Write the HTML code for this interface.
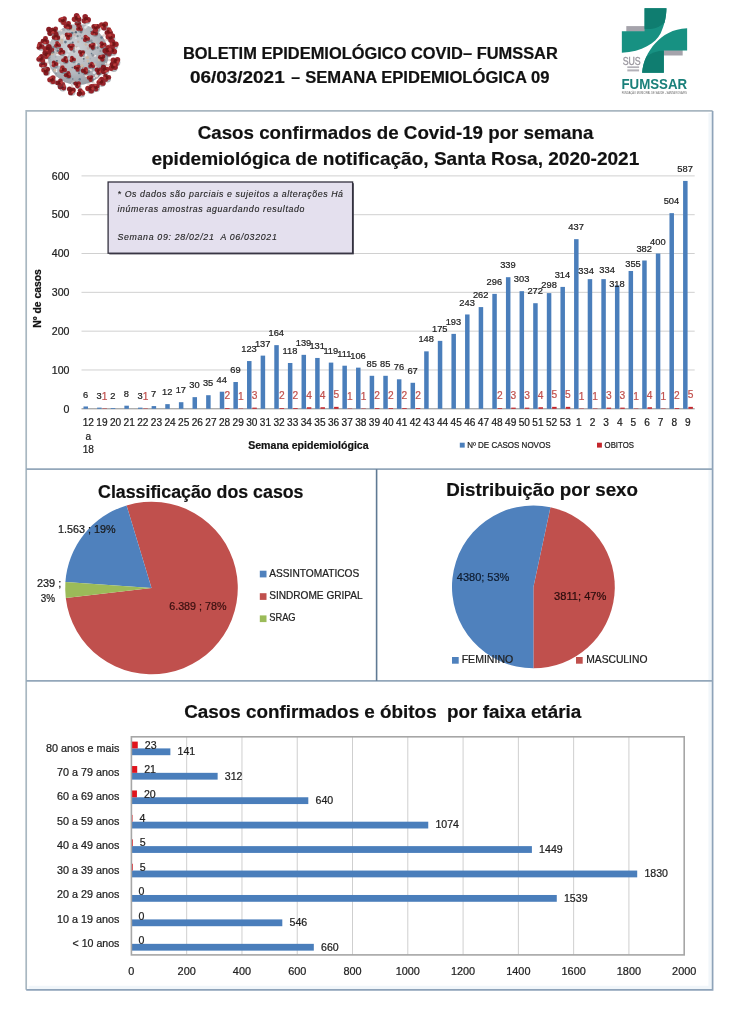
<!DOCTYPE html>
<html lang="pt-BR"><head><meta charset="utf-8"><title>Boletim Epidemiológico COVID – FUMSSAR</title>
<style>
html,body{margin:0;padding:0;background:#fff;}
body{width:730px;height:1024px;overflow:hidden;font-family:"Liberation Sans",sans-serif;}
svg{display:block;font-family:"Liberation Sans",sans-serif;filter:blur(0.45px);}
</style></head>
<body>
<svg width="730" height="1024" viewBox="0 0 730 1024" font-family="Liberation Sans, sans-serif">
<rect width="730" height="1024" fill="#ffffff"/>
<defs><radialGradient id="vg" cx="42%" cy="40%" r="62%"><stop offset="0" stop-color="#cfd2d6"/><stop offset="0.65" stop-color="#b4b8be"/><stop offset="1" stop-color="#969ba3"/></radialGradient>
<filter id="vb" x="-20%" y="-20%" width="140%" height="140%"><feGaussianBlur stdDeviation="0.6"/></filter></defs>
<g id="virus" filter="url(#vb)">
<line x1="67.07" y1="29.88" x2="62.88" y2="20.34" stroke="#e6d6d2" stroke-width="2.4" stroke-linecap="round"/>
<line x1="69.26" y1="29.02" x2="68.08" y2="25.55" stroke="#e6d6d2" stroke-width="2.4" stroke-linecap="round"/>
<line x1="76.93" y1="27.61" x2="76.58" y2="18.01" stroke="#e6d6d2" stroke-width="2.4" stroke-linecap="round"/>
<line x1="83.85" y1="28.24" x2="85.89" y2="19.11" stroke="#e6d6d2" stroke-width="2.4" stroke-linecap="round"/>
<line x1="92.82" y1="32.05" x2="95.75" y2="27.60" stroke="#e6d6d2" stroke-width="2.4" stroke-linecap="round"/>
<line x1="95.86" y1="34.39" x2="103.70" y2="25.55" stroke="#e6d6d2" stroke-width="2.4" stroke-linecap="round"/>
<line x1="99.63" y1="38.50" x2="108.77" y2="31.71" stroke="#e6d6d2" stroke-width="2.4" stroke-linecap="round"/>
<line x1="101.89" y1="42.11" x2="110.55" y2="37.60" stroke="#e6d6d2" stroke-width="2.4" stroke-linecap="round"/>
<line x1="103.83" y1="46.92" x2="113.56" y2="44.04" stroke="#e6d6d2" stroke-width="2.4" stroke-linecap="round"/>
<line x1="104.75" y1="51.37" x2="112.19" y2="50.48" stroke="#e6d6d2" stroke-width="2.4" stroke-linecap="round"/>
<line x1="104.65" y1="50.63" x2="107.53" y2="50.21" stroke="#e6d6d2" stroke-width="2.4" stroke-linecap="round"/>
<line x1="104.54" y1="59.23" x2="115.62" y2="61.16" stroke="#e6d6d2" stroke-width="2.4" stroke-linecap="round"/>
<line x1="103.47" y1="63.40" x2="112.88" y2="66.64" stroke="#e6d6d2" stroke-width="2.4" stroke-linecap="round"/>
<line x1="99.03" y1="71.46" x2="106.71" y2="77.60" stroke="#e6d6d2" stroke-width="2.4" stroke-linecap="round"/>
<line x1="101.56" y1="67.67" x2="104.66" y2="69.38" stroke="#e6d6d2" stroke-width="2.4" stroke-linecap="round"/>
<line x1="90.89" y1="78.28" x2="95.75" y2="87.19" stroke="#e6d6d2" stroke-width="2.4" stroke-linecap="round"/>
<line x1="87.16" y1="79.97" x2="90.27" y2="88.56" stroke="#e6d6d2" stroke-width="2.4" stroke-linecap="round"/>
<line x1="79.88" y1="81.52" x2="80.68" y2="92.67" stroke="#e6d6d2" stroke-width="2.4" stroke-linecap="round"/>
<line x1="72.90" y1="81.11" x2="71.10" y2="90.62" stroke="#e6d6d2" stroke-width="2.4" stroke-linecap="round"/>
<line x1="66.00" y1="78.80" x2="62.19" y2="86.51" stroke="#e6d6d2" stroke-width="2.4" stroke-linecap="round"/>
<line x1="63.15" y1="77.17" x2="59.45" y2="82.81" stroke="#e6d6d2" stroke-width="2.4" stroke-linecap="round"/>
<line x1="58.50" y1="73.32" x2="51.92" y2="79.66" stroke="#e6d6d2" stroke-width="2.4" stroke-linecap="round"/>
<line x1="53.82" y1="66.70" x2="45.75" y2="70.75" stroke="#e6d6d2" stroke-width="2.4" stroke-linecap="round"/>
<line x1="51.86" y1="61.55" x2="43.01" y2="63.90" stroke="#e6d6d2" stroke-width="2.4" stroke-linecap="round"/>
<line x1="51.11" y1="57.57" x2="40.96" y2="58.70" stroke="#e6d6d2" stroke-width="2.4" stroke-linecap="round"/>
<line x1="51.61" y1="48.65" x2="40.27" y2="46.10" stroke="#e6d6d2" stroke-width="2.4" stroke-linecap="round"/>
<line x1="53.10" y1="44.03" x2="45.07" y2="40.62" stroke="#e6d6d2" stroke-width="2.4" stroke-linecap="round"/>
<line x1="51.42" y1="49.53" x2="47.81" y2="48.84" stroke="#e6d6d2" stroke-width="2.4" stroke-linecap="round"/>
<line x1="57.47" y1="36.98" x2="50.55" y2="31.03" stroke="#e6d6d2" stroke-width="2.4" stroke-linecap="round"/>
<line x1="59.07" y1="35.28" x2="54.38" y2="30.48" stroke="#e6d6d2" stroke-width="2.4" stroke-linecap="round"/>
<line x1="50.95" y1="54.35" x2="46.44" y2="54.32" stroke="#e6d6d2" stroke-width="2.4" stroke-linecap="round"/>
<line x1="95.53" y1="75.07" x2="101.23" y2="81.71" stroke="#e6d6d2" stroke-width="2.4" stroke-linecap="round"/>
<line x1="57.12" y1="37.41" x2="56.03" y2="36.51" stroke="#e6d6d2" stroke-width="2.4" stroke-linecap="round"/>
<circle cx="77.95" cy="54.59" r="30.5" fill="url(#vg)"/>
<circle cx="56.85" cy="61.09" r="1.21" fill="#5d6b78"/>
<circle cx="85.83" cy="44.43" r="1.23" fill="#cdb9a4"/>
<circle cx="68.34" cy="46.23" r="1.07" fill="#5d6b78"/>
<circle cx="100.30" cy="68.91" r="1.34" fill="#8f959e"/>
<circle cx="62.17" cy="66.64" r="1.39" fill="#f1f1f1"/>
<circle cx="58.70" cy="35.79" r="0.85" fill="#dfe1e4"/>
<circle cx="83.27" cy="68.09" r="1.50" fill="#8f959e"/>
<circle cx="67.49" cy="74.71" r="1.27" fill="#c4b3ae"/>
<circle cx="64.68" cy="38.50" r="1.21" fill="#dfe1e4"/>
<circle cx="72.76" cy="83.59" r="1.44" fill="#dfe1e4"/>
<circle cx="72.31" cy="67.55" r="0.83" fill="#66798a"/>
<circle cx="69.01" cy="50.84" r="1.56" fill="#dfe1e4"/>
<circle cx="56.11" cy="73.48" r="0.99" fill="#8f959e"/>
<circle cx="84.00" cy="51.60" r="1.68" fill="#a7adb5"/>
<circle cx="71.57" cy="59.38" r="1.50" fill="#c4b3ae"/>
<circle cx="76.87" cy="63.23" r="0.81" fill="#eadbd5"/>
<circle cx="54.01" cy="69.77" r="1.02" fill="#7e8890"/>
<circle cx="83.76" cy="58.87" r="0.96" fill="#5d6b78"/>
<circle cx="59.57" cy="47.41" r="1.69" fill="#c4b3ae"/>
<circle cx="80.28" cy="35.63" r="0.90" fill="#a7adb5"/>
<circle cx="65.99" cy="61.09" r="1.58" fill="#66798a"/>
<circle cx="100.37" cy="51.02" r="0.99" fill="#8f959e"/>
<circle cx="56.48" cy="71.40" r="0.89" fill="#f1f1f1"/>
<circle cx="91.54" cy="53.67" r="0.81" fill="#66798a"/>
<circle cx="57.27" cy="37.41" r="0.87" fill="#a7adb5"/>
<circle cx="96.95" cy="66.67" r="0.81" fill="#c4b3ae"/>
<circle cx="62.16" cy="71.68" r="1.66" fill="#7e8890"/>
<circle cx="55.70" cy="56.87" r="0.96" fill="#a7adb5"/>
<circle cx="93.88" cy="77.76" r="1.02" fill="#f1f1f1"/>
<circle cx="87.31" cy="78.16" r="0.98" fill="#cdb9a4"/>
<circle cx="104.30" cy="46.05" r="0.87" fill="#f1f1f1"/>
<circle cx="87.26" cy="57.45" r="1.67" fill="#cdb9a4"/>
<circle cx="79.75" cy="79.29" r="1.18" fill="#66798a"/>
<circle cx="95.03" cy="42.95" r="0.96" fill="#cdb9a4"/>
<circle cx="76.51" cy="46.99" r="1.23" fill="#c4b3ae"/>
<circle cx="64.75" cy="35.56" r="1.05" fill="#dfe1e4"/>
<circle cx="89.51" cy="47.98" r="0.86" fill="#8f959e"/>
<circle cx="65.44" cy="62.37" r="0.96" fill="#8f959e"/>
<circle cx="62.79" cy="70.97" r="0.88" fill="#7e8890"/>
<circle cx="90.72" cy="69.72" r="1.39" fill="#eadbd5"/>
<circle cx="69.80" cy="33.56" r="1.33" fill="#7e8890"/>
<circle cx="95.97" cy="45.20" r="1.43" fill="#eadbd5"/>
<circle cx="82.13" cy="53.59" r="1.23" fill="#dfe1e4"/>
<circle cx="75.91" cy="38.05" r="0.87" fill="#dfe1e4"/>
<circle cx="53.67" cy="47.36" r="1.51" fill="#7e8890"/>
<circle cx="93.01" cy="45.68" r="1.61" fill="#5d6b78"/>
<circle cx="91.08" cy="40.79" r="1.58" fill="#8f959e"/>
<circle cx="57.02" cy="44.29" r="1.14" fill="#a7adb5"/>
<circle cx="85.85" cy="55.21" r="1.38" fill="#dfe1e4"/>
<circle cx="105.59" cy="53.43" r="1.15" fill="#eadbd5"/>
<circle cx="75.83" cy="32.20" r="1.22" fill="#5d6b78"/>
<circle cx="57.41" cy="49.14" r="0.83" fill="#cdb9a4"/>
<circle cx="61.49" cy="42.43" r="1.66" fill="#c4b3ae"/>
<circle cx="97.71" cy="71.56" r="1.03" fill="#5d6b78"/>
<circle cx="94.09" cy="55.74" r="0.98" fill="#f1f1f1"/>
<circle cx="91.53" cy="79.16" r="1.25" fill="#5d6b78"/>
<circle cx="78.95" cy="73.33" r="0.98" fill="#66798a"/>
<circle cx="53.92" cy="65.73" r="1.59" fill="#c4b3ae"/>
<circle cx="61.10" cy="69.55" r="0.99" fill="#eadbd5"/>
<circle cx="89.54" cy="67.66" r="1.44" fill="#8f959e"/>
<circle cx="92.71" cy="49.79" r="0.90" fill="#7e8890"/>
<circle cx="50.02" cy="59.67" r="1.14" fill="#a7adb5"/>
<circle cx="53.95" cy="51.56" r="1.21" fill="#f1f1f1"/>
<circle cx="82.61" cy="56.96" r="0.84" fill="#f1f1f1"/>
<circle cx="72.22" cy="33.05" r="1.38" fill="#66798a"/>
<circle cx="56.21" cy="45.34" r="1.21" fill="#a7adb5"/>
<circle cx="104.49" cy="58.75" r="1.50" fill="#c4b3ae"/>
<circle cx="86.44" cy="26.58" r="1.20" fill="#dfe1e4"/>
<circle cx="61.60" cy="37.19" r="1.66" fill="#eadbd5"/>
<circle cx="72.68" cy="42.52" r="1.03" fill="#5d6b78"/>
<circle cx="72.23" cy="29.60" r="1.44" fill="#cdb9a4"/>
<circle cx="84.58" cy="68.48" r="1.29" fill="#eadbd5"/>
<circle cx="97.66" cy="47.74" r="1.15" fill="#7e8890"/>
<circle cx="85.26" cy="27.48" r="1.17" fill="#dfe1e4"/>
<circle cx="92.30" cy="43.11" r="1.21" fill="#5d6b78"/>
<circle cx="58.12" cy="34.62" r="1.30" fill="#a7adb5"/>
<circle cx="65.94" cy="37.46" r="1.22" fill="#eadbd5"/>
<circle cx="70.19" cy="43.72" r="0.99" fill="#dfe1e4"/>
<circle cx="101.58" cy="37.42" r="1.28" fill="#66798a"/>
<circle cx="82.18" cy="38.44" r="1.11" fill="#8f959e"/>
<circle cx="94.94" cy="64.32" r="1.18" fill="#cdb9a4"/>
<circle cx="73.47" cy="82.53" r="1.53" fill="#c4b3ae"/>
<circle cx="102.22" cy="64.92" r="1.28" fill="#7e8890"/>
<circle cx="66.99" cy="28.57" r="0.93" fill="#5d6b78"/>
<circle cx="52.99" cy="51.99" r="1.65" fill="#5d6b78"/>
<circle cx="49.24" cy="55.93" r="1.48" fill="#dfe1e4"/>
<circle cx="57.47" cy="62.78" r="1.37" fill="#cdb9a4"/>
<circle cx="51.13" cy="50.72" r="1.03" fill="#cdb9a4"/>
<circle cx="64.27" cy="29.22" r="0.99" fill="#f1f1f1"/>
<circle cx="95.12" cy="31.19" r="1.05" fill="#cdb9a4"/>
<circle cx="59.03" cy="54.87" r="1.25" fill="#dfe1e4"/>
<circle cx="74.07" cy="51.57" r="1.26" fill="#8f959e"/>
<circle cx="56.53" cy="70.03" r="0.91" fill="#f1f1f1"/>
<circle cx="87.98" cy="61.25" r="1.21" fill="#cdb9a4"/>
<circle cx="101.14" cy="41.99" r="1.04" fill="#a7adb5"/>
<circle cx="67.58" cy="56.35" r="1.61" fill="#a7adb5"/>
<circle cx="103.96" cy="43.46" r="1.09" fill="#cdb9a4"/>
<circle cx="86.28" cy="76.23" r="0.92" fill="#66798a"/>
<circle cx="78.76" cy="50.21" r="0.94" fill="#c4b3ae"/>
<circle cx="93.63" cy="55.76" r="1.02" fill="#eadbd5"/>
<circle cx="57.09" cy="54.74" r="0.91" fill="#f1f1f1"/>
<circle cx="63.21" cy="53.62" r="1.43" fill="#c4b3ae"/>
<circle cx="81.20" cy="51.48" r="1.54" fill="#a7adb5"/>
<circle cx="61.78" cy="40.20" r="1.37" fill="#cdb9a4"/>
<circle cx="51.20" cy="49.55" r="1.33" fill="#f1f1f1"/>
<circle cx="96.41" cy="75.92" r="1.61" fill="#eadbd5"/>
<circle cx="71.29" cy="69.75" r="1.00" fill="#c4b3ae"/>
<circle cx="105.74" cy="54.30" r="1.60" fill="#7e8890"/>
<circle cx="83.84" cy="61.07" r="0.89" fill="#a7adb5"/>
<circle cx="87.40" cy="37.93" r="0.98" fill="#7e8890"/>
<circle cx="59.65" cy="35.60" r="0.98" fill="#dfe1e4"/>
<circle cx="66.34" cy="28.93" r="0.90" fill="#eadbd5"/>
<circle cx="52.28" cy="53.67" r="1.70" fill="#cdb9a4"/>
<circle cx="91.11" cy="31.67" r="0.90" fill="#5d6b78"/>
<circle cx="99.25" cy="59.70" r="1.61" fill="#cdb9a4"/>
<circle cx="65.19" cy="56.10" r="0.98" fill="#dfe1e4"/>
<circle cx="93.71" cy="29.82" r="1.32" fill="#dfe1e4"/>
<circle cx="94.11" cy="72.79" r="1.49" fill="#dfe1e4"/>
<circle cx="68.59" cy="72.44" r="1.12" fill="#cdb9a4"/>
<circle cx="82.42" cy="72.05" r="1.56" fill="#8f959e"/>
<circle cx="86.26" cy="72.64" r="1.16" fill="#eadbd5"/>
<circle cx="82.00" cy="65.87" r="1.51" fill="#cdb9a4"/>
<circle cx="74.11" cy="62.28" r="1.31" fill="#a7adb5"/>
<circle cx="86.12" cy="75.61" r="1.52" fill="#eadbd5"/>
<circle cx="76.48" cy="82.71" r="1.53" fill="#7e8890"/>
<circle cx="54.78" cy="70.20" r="1.43" fill="#cdb9a4"/>
<circle cx="80.74" cy="28.93" r="0.99" fill="#a7adb5"/>
<circle cx="88.43" cy="78.75" r="1.22" fill="#66798a"/>
<circle cx="95.50" cy="55.76" r="0.84" fill="#f1f1f1"/>
<circle cx="73.78" cy="83.21" r="1.10" fill="#66798a"/>
<circle cx="65.99" cy="35.81" r="0.87" fill="#cdb9a4"/>
<circle cx="57.22" cy="52.67" r="1.43" fill="#c4b3ae"/>
<circle cx="80.10" cy="25.46" r="0.90" fill="#8f959e"/>
<circle cx="89.12" cy="63.61" r="1.16" fill="#5d6b78"/>
<circle cx="90.34" cy="58.65" r="0.81" fill="#a7adb5"/>
<circle cx="77.11" cy="70.06" r="1.30" fill="#eadbd5"/>
<circle cx="48.97" cy="53.16" r="1.56" fill="#f1f1f1"/>
<circle cx="93.88" cy="66.11" r="1.29" fill="#dfe1e4"/>
<circle cx="63.81" cy="29.46" r="1.64" fill="#a7adb5"/>
<circle cx="88.81" cy="71.69" r="1.57" fill="#7e8890"/>
<circle cx="55.95" cy="48.65" r="1.65" fill="#a7adb5"/>
<circle cx="59.14" cy="64.82" r="1.08" fill="#f1f1f1"/>
<circle cx="57.81" cy="50.69" r="1.30" fill="#66798a"/>
<circle cx="72.72" cy="79.01" r="0.82" fill="#66798a"/>
<circle cx="81.12" cy="32.24" r="1.17" fill="#7e8890"/>
<circle cx="75.23" cy="48.38" r="1.47" fill="#eadbd5"/>
<circle cx="105.83" cy="63.68" r="0.87" fill="#eadbd5"/>
<circle cx="93.97" cy="43.78" r="1.03" fill="#5d6b78"/>
<circle cx="78.16" cy="48.30" r="1.64" fill="#dfe1e4"/>
<circle cx="74.50" cy="34.70" r="1.34" fill="#c4b3ae"/>
<circle cx="95.42" cy="70.01" r="0.91" fill="#5d6b78"/>
<circle cx="89.27" cy="41.09" r="0.91" fill="#7e8890"/>
<circle cx="55.37" cy="63.06" r="1.34" fill="#5d6b78"/>
<circle cx="62.37" cy="35.86" r="1.50" fill="#eadbd5"/>
<circle cx="49.03" cy="48.93" r="1.46" fill="#66798a"/>
<circle cx="78.67" cy="64.52" r="1.51" fill="#66798a"/>
<circle cx="65.44" cy="42.09" r="1.35" fill="#66798a"/>
<circle cx="74.10" cy="30.23" r="1.37" fill="#c4b3ae"/>
<circle cx="78.22" cy="41.74" r="1.25" fill="#c4b3ae"/>
<circle cx="70.47" cy="43.88" r="1.37" fill="#8f959e"/>
<circle cx="92.95" cy="55.48" r="1.36" fill="#8f959e"/>
<circle cx="95.31" cy="67.62" r="1.48" fill="#dfe1e4"/>
<circle cx="88.05" cy="48.43" r="1.37" fill="#c4b3ae"/>
<circle cx="63.68" cy="69.18" r="1.10" fill="#c4b3ae"/>
<circle cx="67.18" cy="54.97" r="1.52" fill="#dfe1e4"/>
<circle cx="52.65" cy="63.28" r="1.20" fill="#c4b3ae"/>
<circle cx="77.64" cy="36.17" r="1.13" fill="#7e8890"/>
<circle cx="61.25" cy="30.46" r="1.06" fill="#eadbd5"/>
<circle cx="79.46" cy="27.82" r="1.18" fill="#7e8890"/>
<circle cx="71.69" cy="61.32" r="0.87" fill="#eadbd5"/>
<circle cx="78.75" cy="25.58" r="2.69" fill="#4f5a66" opacity="0.45"/>
<circle cx="76.46" cy="23.55" r="1.88" fill="#9c282c"/>
<circle cx="79.23" cy="23.21" r="1.88" fill="#861d22"/>
<circle cx="78.14" cy="25.78" r="1.88" fill="#9c282c"/>
<circle cx="77.95" cy="24.18" r="1.41" fill="#6f1418"/>
<circle cx="77.67" cy="22.52" r="1.01" fill="#b83a3a"/>
<circle cx="80.39" cy="29.69" r="2.81" fill="#4f5a66" opacity="0.45"/>
<circle cx="79.86" cy="26.62" r="1.97" fill="#94232a"/>
<circle cx="80.90" cy="29.35" r="1.97" fill="#9c282c"/>
<circle cx="78.02" cy="28.89" r="1.97" fill="#94232a"/>
<circle cx="79.59" cy="28.29" r="1.47" fill="#6f1418"/>
<circle cx="81.20" cy="27.59" r="1.05" fill="#b83a3a"/>
<circle cx="69.16" cy="37.22" r="3.15" fill="#4f5a66" opacity="0.45"/>
<circle cx="66.85" cy="34.68" r="2.20" fill="#861d22"/>
<circle cx="70.10" cy="35.09" r="2.20" fill="#9c282c"/>
<circle cx="68.12" cy="37.70" r="2.20" fill="#9c282c"/>
<circle cx="68.36" cy="35.82" r="1.65" fill="#6f1418"/>
<circle cx="68.52" cy="33.86" r="1.18" fill="#b83a3a"/>
<circle cx="86.96" cy="39.96" r="3.05" fill="#4f5a66" opacity="0.45"/>
<circle cx="85.53" cy="36.85" r="2.13" fill="#9c282c"/>
<circle cx="87.97" cy="38.87" r="2.13" fill="#94232a"/>
<circle cx="84.99" cy="39.97" r="2.13" fill="#94232a"/>
<circle cx="86.16" cy="38.56" r="1.60" fill="#6f1418"/>
<circle cx="87.31" cy="37.04" r="1.14" fill="#b83a3a"/>
<circle cx="58.20" cy="46.13" r="2.84" fill="#4f5a66" opacity="0.45"/>
<circle cx="57.14" cy="43.04" r="1.99" fill="#9c282c"/>
<circle cx="58.98" cy="45.35" r="1.99" fill="#94232a"/>
<circle cx="56.07" cy="45.79" r="1.99" fill="#9c282c"/>
<circle cx="57.40" cy="44.73" r="1.49" fill="#6f1418"/>
<circle cx="58.73" cy="43.55" r="1.07" fill="#b83a3a"/>
<circle cx="71.90" cy="48.18" r="3.04" fill="#4f5a66" opacity="0.45"/>
<circle cx="69.44" cy="46.01" r="2.13" fill="#861d22"/>
<circle cx="72.59" cy="45.73" r="2.13" fill="#9c282c"/>
<circle cx="71.26" cy="48.60" r="2.13" fill="#9c282c"/>
<circle cx="71.10" cy="46.78" r="1.59" fill="#6f1418"/>
<circle cx="70.84" cy="44.90" r="1.14" fill="#b83a3a"/>
<circle cx="103.40" cy="46.13" r="2.94" fill="#4f5a66" opacity="0.45"/>
<circle cx="104.36" cy="44.64" r="2.06" fill="#9c282c"/>
<circle cx="101.80" cy="46.29" r="2.06" fill="#9c282c"/>
<circle cx="101.65" cy="43.24" r="2.06" fill="#94232a"/>
<circle cx="102.60" cy="44.73" r="1.54" fill="#6f1418"/>
<circle cx="103.67" cy="46.22" r="1.10" fill="#b83a3a"/>
<circle cx="82.17" cy="54.35" r="2.86" fill="#4f5a66" opacity="0.45"/>
<circle cx="82.95" cy="52.26" r="2.00" fill="#861d22"/>
<circle cx="81.18" cy="54.65" r="2.00" fill="#94232a"/>
<circle cx="79.99" cy="51.92" r="2.00" fill="#94232a"/>
<circle cx="81.37" cy="52.95" r="1.50" fill="#6f1418"/>
<circle cx="82.86" cy="53.94" r="1.07" fill="#b83a3a"/>
<circle cx="51.35" cy="50.92" r="2.84" fill="#4f5a66" opacity="0.45"/>
<circle cx="49.42" cy="50.80" r="1.99" fill="#9c282c"/>
<circle cx="50.01" cy="47.90" r="1.99" fill="#861d22"/>
<circle cx="52.22" cy="49.86" r="1.99" fill="#9c282c"/>
<circle cx="50.55" cy="49.52" r="1.49" fill="#6f1418"/>
<circle cx="48.79" cy="49.25" r="1.07" fill="#b83a3a"/>
<circle cx="65.73" cy="61.19" r="2.97" fill="#4f5a66" opacity="0.45"/>
<circle cx="65.44" cy="58.09" r="2.08" fill="#861d22"/>
<circle cx="66.16" cy="61.09" r="2.08" fill="#861d22"/>
<circle cx="63.20" cy="60.21" r="2.08" fill="#9c282c"/>
<circle cx="64.93" cy="59.79" r="1.56" fill="#6f1418"/>
<circle cx="66.71" cy="59.28" r="1.11" fill="#b83a3a"/>
<circle cx="102.72" cy="59.14" r="3.09" fill="#4f5a66" opacity="0.45"/>
<circle cx="100.13" cy="57.27" r="2.16" fill="#861d22"/>
<circle cx="103.22" cy="56.42" r="2.16" fill="#861d22"/>
<circle cx="102.41" cy="59.52" r="2.16" fill="#94232a"/>
<circle cx="101.92" cy="57.74" r="1.62" fill="#6f1418"/>
<circle cx="101.32" cy="55.91" r="1.16" fill="#b83a3a"/>
<circle cx="92.44" cy="66.67" r="2.74" fill="#4f5a66" opacity="0.45"/>
<circle cx="91.74" cy="63.63" r="1.92" fill="#9c282c"/>
<circle cx="93.02" cy="66.17" r="1.92" fill="#94232a"/>
<circle cx="90.18" cy="66.02" r="1.92" fill="#94232a"/>
<circle cx="91.64" cy="65.27" r="1.44" fill="#6f1418"/>
<circle cx="93.13" cy="64.43" r="1.03" fill="#b83a3a"/>
<circle cx="78.06" cy="69.41" r="2.93" fill="#4f5a66" opacity="0.45"/>
<circle cx="75.57" cy="67.53" r="2.05" fill="#861d22"/>
<circle cx="78.52" cy="66.79" r="2.05" fill="#9c282c"/>
<circle cx="77.69" cy="69.72" r="2.05" fill="#94232a"/>
<circle cx="77.26" cy="68.01" r="1.54" fill="#6f1418"/>
<circle cx="76.73" cy="66.26" r="1.10" fill="#b83a3a"/>
<circle cx="68.47" cy="76.26" r="3.00" fill="#4f5a66" opacity="0.45"/>
<circle cx="68.27" cy="73.16" r="2.10" fill="#94232a"/>
<circle cx="68.84" cy="76.23" r="2.10" fill="#861d22"/>
<circle cx="65.90" cy="75.19" r="2.10" fill="#861d22"/>
<circle cx="67.67" cy="74.86" r="1.58" fill="#6f1418"/>
<circle cx="69.50" cy="74.44" r="1.13" fill="#b83a3a"/>
<circle cx="91.07" cy="79.69" r="2.81" fill="#4f5a66" opacity="0.45"/>
<circle cx="88.66" cy="77.81" r="1.97" fill="#9c282c"/>
<circle cx="91.49" cy="77.12" r="1.97" fill="#94232a"/>
<circle cx="90.67" cy="79.93" r="1.97" fill="#9c282c"/>
<circle cx="90.27" cy="78.29" r="1.48" fill="#6f1418"/>
<circle cx="89.78" cy="76.60" r="1.05" fill="#b83a3a"/>
<circle cx="78.06" cy="85.85" r="3.05" fill="#4f5a66" opacity="0.45"/>
<circle cx="78.74" cy="83.37" r="2.14" fill="#94232a"/>
<circle cx="77.46" cy="86.27" r="2.14" fill="#94232a"/>
<circle cx="75.58" cy="83.72" r="2.14" fill="#861d22"/>
<circle cx="77.26" cy="84.45" r="1.60" fill="#6f1418"/>
<circle cx="79.04" cy="85.13" r="1.14" fill="#b83a3a"/>
<circle cx="95.18" cy="33.80" r="3.01" fill="#4f5a66" opacity="0.45"/>
<circle cx="95.86" cy="33.43" r="2.10" fill="#861d22"/>
<circle cx="92.75" cy="33.16" r="2.10" fill="#9c282c"/>
<circle cx="94.54" cy="30.60" r="2.10" fill="#94232a"/>
<circle cx="94.38" cy="32.40" r="1.58" fill="#6f1418"/>
<circle cx="94.31" cy="34.27" r="1.13" fill="#b83a3a"/>
<circle cx="108.88" cy="54.35" r="3.04" fill="#4f5a66" opacity="0.45"/>
<circle cx="106.26" cy="53.07" r="2.13" fill="#861d22"/>
<circle cx="108.88" cy="51.31" r="2.13" fill="#9c282c"/>
<circle cx="109.10" cy="54.46" r="2.13" fill="#9c282c"/>
<circle cx="108.08" cy="52.95" r="1.60" fill="#6f1418"/>
<circle cx="106.95" cy="51.42" r="1.14" fill="#b83a3a"/>
<circle cx="55.46" cy="65.30" r="2.86" fill="#4f5a66" opacity="0.45"/>
<circle cx="53.76" cy="65.37" r="2.00" fill="#9c282c"/>
<circle cx="53.84" cy="62.39" r="2.00" fill="#861d22"/>
<circle cx="56.37" cy="63.95" r="2.00" fill="#94232a"/>
<circle cx="54.66" cy="63.90" r="1.50" fill="#6f1418"/>
<circle cx="52.87" cy="63.94" r="1.07" fill="#b83a3a"/>
<circle cx="93.13" cy="47.50" r="2.92" fill="#4f5a66" opacity="0.45"/>
<circle cx="90.63" cy="45.69" r="2.04" fill="#861d22"/>
<circle cx="93.53" cy="44.82" r="2.04" fill="#94232a"/>
<circle cx="92.83" cy="47.77" r="2.04" fill="#861d22"/>
<circle cx="92.33" cy="46.10" r="1.53" fill="#6f1418"/>
<circle cx="91.73" cy="44.38" r="1.09" fill="#b83a3a"/>
<circle cx="62.31" cy="52.98" r="2.99" fill="#4f5a66" opacity="0.45"/>
<circle cx="63.22" cy="52.09" r="2.09" fill="#861d22"/>
<circle cx="60.20" cy="52.81" r="2.09" fill="#9c282c"/>
<circle cx="61.09" cy="49.83" r="2.09" fill="#94232a"/>
<circle cx="61.51" cy="51.58" r="1.57" fill="#6f1418"/>
<circle cx="62.02" cy="53.37" r="1.12" fill="#b83a3a"/>
<circle cx="85.59" cy="72.15" r="3.09" fill="#4f5a66" opacity="0.45"/>
<circle cx="85.73" cy="69.15" r="2.16" fill="#9c282c"/>
<circle cx="85.72" cy="72.36" r="2.16" fill="#861d22"/>
<circle cx="82.94" cy="70.75" r="2.16" fill="#861d22"/>
<circle cx="84.79" cy="70.75" r="1.62" fill="#6f1418"/>
<circle cx="86.72" cy="70.67" r="1.16" fill="#b83a3a"/>
<circle cx="73.27" cy="60.51" r="2.65" fill="#4f5a66" opacity="0.45"/>
<circle cx="71.44" cy="60.32" r="1.86" fill="#94232a"/>
<circle cx="71.93" cy="57.61" r="1.86" fill="#94232a"/>
<circle cx="74.03" cy="59.39" r="1.86" fill="#9c282c"/>
<circle cx="72.47" cy="59.11" r="1.39" fill="#6f1418"/>
<circle cx="70.82" cy="58.89" r="1.00" fill="#b83a3a"/>
<circle cx="99.29" cy="72.15" r="3.16" fill="#4f5a66" opacity="0.45"/>
<circle cx="100.13" cy="69.79" r="2.21" fill="#94232a"/>
<circle cx="98.51" cy="72.65" r="2.21" fill="#861d22"/>
<circle cx="96.85" cy="69.82" r="2.21" fill="#94232a"/>
<circle cx="98.49" cy="70.75" r="1.66" fill="#6f1418"/>
<circle cx="100.25" cy="71.65" r="1.18" fill="#b83a3a"/>
<circle cx="63.68" cy="70.78" r="3.19" fill="#4f5a66" opacity="0.45"/>
<circle cx="61.52" cy="70.73" r="2.24" fill="#94232a"/>
<circle cx="62.39" cy="67.53" r="2.24" fill="#9c282c"/>
<circle cx="64.73" cy="69.88" r="2.24" fill="#94232a"/>
<circle cx="62.88" cy="69.38" r="1.68" fill="#6f1418"/>
<circle cx="60.93" cy="68.95" r="1.20" fill="#b83a3a"/>
<circle cx="63.68" cy="21.74" r="3.61" fill="#4f5a66" opacity="0.45"/>
<circle cx="60.75" cy="19.95" r="2.53" fill="#9c282c"/>
<circle cx="64.28" cy="18.69" r="2.53" fill="#94232a"/>
<circle cx="63.60" cy="22.38" r="2.53" fill="#9c282c"/>
<circle cx="62.88" cy="20.34" r="1.89" fill="#6f1418"/>
<circle cx="62.02" cy="18.25" r="1.35" fill="#b83a3a"/>
<circle cx="68.88" cy="26.95" r="3.56" fill="#4f5a66" opacity="0.45"/>
<circle cx="69.68" cy="26.96" r="2.49" fill="#861d22"/>
<circle cx="66.06" cy="26.23" r="2.49" fill="#94232a"/>
<circle cx="68.50" cy="23.45" r="2.49" fill="#94232a"/>
<circle cx="68.08" cy="25.55" r="1.87" fill="#6f1418"/>
<circle cx="67.75" cy="27.75" r="1.33" fill="#b83a3a"/>
<circle cx="77.38" cy="19.41" r="3.94" fill="#4f5a66" opacity="0.45"/>
<circle cx="76.62" cy="15.65" r="2.76" fill="#94232a"/>
<circle cx="78.60" cy="19.24" r="2.76" fill="#861d22"/>
<circle cx="74.50" cy="19.16" r="2.76" fill="#9c282c"/>
<circle cx="76.58" cy="18.01" r="2.07" fill="#6f1418"/>
<circle cx="78.68" cy="16.72" r="1.48" fill="#b83a3a"/>
<circle cx="86.69" cy="20.51" r="3.94" fill="#4f5a66" opacity="0.45"/>
<circle cx="88.19" cy="19.65" r="2.76" fill="#94232a"/>
<circle cx="84.28" cy="20.84" r="2.76" fill="#94232a"/>
<circle cx="85.20" cy="16.85" r="2.76" fill="#94232a"/>
<circle cx="85.89" cy="19.11" r="2.07" fill="#6f1418"/>
<circle cx="86.72" cy="21.43" r="1.48" fill="#b83a3a"/>
<circle cx="96.55" cy="29.00" r="3.59" fill="#4f5a66" opacity="0.45"/>
<circle cx="93.92" cy="26.47" r="2.51" fill="#861d22"/>
<circle cx="97.65" cy="26.58" r="2.51" fill="#861d22"/>
<circle cx="95.69" cy="29.76" r="2.51" fill="#9c282c"/>
<circle cx="95.75" cy="27.60" r="1.88" fill="#6f1418"/>
<circle cx="95.72" cy="25.36" r="1.35" fill="#b83a3a"/>
<circle cx="104.50" cy="26.95" r="3.74" fill="#4f5a66" opacity="0.45"/>
<circle cx="104.06" cy="27.76" r="2.62" fill="#94232a"/>
<circle cx="101.60" cy="24.76" r="2.62" fill="#9c282c"/>
<circle cx="105.43" cy="24.12" r="2.62" fill="#9c282c"/>
<circle cx="103.70" cy="25.55" r="1.96" fill="#6f1418"/>
<circle cx="101.96" cy="27.11" r="1.40" fill="#b83a3a"/>
<circle cx="109.57" cy="33.11" r="3.47" fill="#4f5a66" opacity="0.45"/>
<circle cx="108.87" cy="29.63" r="2.43" fill="#9c282c"/>
<circle cx="110.52" cy="32.84" r="2.43" fill="#861d22"/>
<circle cx="106.92" cy="32.67" r="2.43" fill="#861d22"/>
<circle cx="108.77" cy="31.71" r="1.82" fill="#6f1418"/>
<circle cx="110.65" cy="30.63" r="1.30" fill="#b83a3a"/>
<circle cx="111.35" cy="39.00" r="3.96" fill="#4f5a66" opacity="0.45"/>
<circle cx="108.29" cy="36.86" r="2.77" fill="#9c282c"/>
<circle cx="112.32" cy="36.02" r="2.77" fill="#9c282c"/>
<circle cx="111.04" cy="39.93" r="2.77" fill="#9c282c"/>
<circle cx="110.55" cy="37.60" r="2.08" fill="#6f1418"/>
<circle cx="109.93" cy="35.21" r="1.49" fill="#b83a3a"/>
<circle cx="114.36" cy="45.44" r="3.95" fill="#4f5a66" opacity="0.45"/>
<circle cx="112.27" cy="46.02" r="2.76" fill="#861d22"/>
<circle cx="112.49" cy="41.93" r="2.76" fill="#94232a"/>
<circle cx="115.93" cy="44.17" r="2.76" fill="#9c282c"/>
<circle cx="113.56" cy="44.04" r="2.07" fill="#6f1418"/>
<circle cx="111.10" cy="44.02" r="1.48" fill="#b83a3a"/>
<circle cx="112.99" cy="51.88" r="3.91" fill="#4f5a66" opacity="0.45"/>
<circle cx="110.30" cy="51.87" r="2.74" fill="#94232a"/>
<circle cx="111.94" cy="48.15" r="2.74" fill="#94232a"/>
<circle cx="114.34" cy="51.42" r="2.74" fill="#9c282c"/>
<circle cx="112.19" cy="50.48" r="2.05" fill="#6f1418"/>
<circle cx="109.91" cy="49.60" r="1.47" fill="#b83a3a"/>
<circle cx="108.33" cy="51.61" r="3.98" fill="#4f5a66" opacity="0.45"/>
<circle cx="108.20" cy="47.91" r="2.79" fill="#9c282c"/>
<circle cx="109.19" cy="51.93" r="2.79" fill="#94232a"/>
<circle cx="105.21" cy="50.78" r="2.79" fill="#861d22"/>
<circle cx="107.53" cy="50.21" r="2.09" fill="#6f1418"/>
<circle cx="109.92" cy="49.49" r="1.49" fill="#b83a3a"/>
<circle cx="116.42" cy="62.56" r="3.95" fill="#4f5a66" opacity="0.45"/>
<circle cx="117.46" cy="59.68" r="2.77" fill="#9c282c"/>
<circle cx="115.98" cy="63.51" r="2.77" fill="#9c282c"/>
<circle cx="113.41" cy="60.31" r="2.77" fill="#9c282c"/>
<circle cx="115.62" cy="61.16" r="2.07" fill="#6f1418"/>
<circle cx="117.96" cy="61.95" r="1.48" fill="#b83a3a"/>
<circle cx="113.68" cy="68.04" r="3.87" fill="#4f5a66" opacity="0.45"/>
<circle cx="112.35" cy="64.38" r="2.71" fill="#861d22"/>
<circle cx="115.10" cy="67.31" r="2.71" fill="#94232a"/>
<circle cx="111.19" cy="68.24" r="2.71" fill="#9c282c"/>
<circle cx="112.88" cy="66.64" r="2.03" fill="#6f1418"/>
<circle cx="114.56" cy="64.91" r="1.45" fill="#b83a3a"/>
<circle cx="107.51" cy="79.00" r="3.46" fill="#4f5a66" opacity="0.45"/>
<circle cx="105.81" cy="79.47" r="2.42" fill="#9c282c"/>
<circle cx="105.55" cy="75.88" r="2.42" fill="#861d22"/>
<circle cx="108.78" cy="77.45" r="2.42" fill="#94232a"/>
<circle cx="106.71" cy="77.60" r="1.82" fill="#6f1418"/>
<circle cx="104.57" cy="77.86" r="1.30" fill="#b83a3a"/>
<circle cx="105.46" cy="70.78" r="3.77" fill="#4f5a66" opacity="0.45"/>
<circle cx="106.92" cy="69.29" r="2.64" fill="#9c282c"/>
<circle cx="103.61" cy="71.39" r="2.64" fill="#861d22"/>
<circle cx="103.44" cy="67.48" r="2.64" fill="#861d22"/>
<circle cx="104.66" cy="69.38" r="1.98" fill="#6f1418"/>
<circle cx="106.01" cy="71.31" r="1.41" fill="#b83a3a"/>
<circle cx="96.55" cy="88.59" r="3.39" fill="#4f5a66" opacity="0.45"/>
<circle cx="93.92" cy="86.30" r="2.38" fill="#94232a"/>
<circle cx="97.44" cy="86.05" r="2.38" fill="#94232a"/>
<circle cx="95.90" cy="89.22" r="2.38" fill="#94232a"/>
<circle cx="95.75" cy="87.19" r="1.78" fill="#6f1418"/>
<circle cx="95.50" cy="85.09" r="1.27" fill="#b83a3a"/>
<circle cx="91.07" cy="89.96" r="3.89" fill="#4f5a66" opacity="0.45"/>
<circle cx="91.60" cy="86.64" r="2.72" fill="#94232a"/>
<circle cx="91.27" cy="90.67" r="2.72" fill="#94232a"/>
<circle cx="87.95" cy="88.38" r="2.72" fill="#9c282c"/>
<circle cx="90.27" cy="88.56" r="2.04" fill="#6f1418"/>
<circle cx="92.70" cy="88.64" r="1.46" fill="#b83a3a"/>
<circle cx="81.48" cy="94.07" r="3.53" fill="#4f5a66" opacity="0.45"/>
<circle cx="80.24" cy="90.60" r="2.47" fill="#94232a"/>
<circle cx="82.70" cy="93.32" r="2.47" fill="#9c282c"/>
<circle cx="79.11" cy="94.09" r="2.47" fill="#861d22"/>
<circle cx="80.68" cy="92.67" r="1.85" fill="#6f1418"/>
<circle cx="82.25" cy="91.12" r="1.32" fill="#b83a3a"/>
<circle cx="71.90" cy="92.02" r="3.66" fill="#4f5a66" opacity="0.45"/>
<circle cx="73.21" cy="90.01" r="2.56" fill="#861d22"/>
<circle cx="70.57" cy="92.75" r="2.56" fill="#861d22"/>
<circle cx="69.51" cy="89.09" r="2.56" fill="#861d22"/>
<circle cx="71.10" cy="90.62" r="1.92" fill="#6f1418"/>
<circle cx="72.82" cy="92.13" r="1.37" fill="#b83a3a"/>
<circle cx="62.99" cy="87.91" r="3.55" fill="#4f5a66" opacity="0.45"/>
<circle cx="62.71" cy="84.44" r="2.49" fill="#9c282c"/>
<circle cx="63.72" cy="87.99" r="2.49" fill="#94232a"/>
<circle cx="60.14" cy="87.09" r="2.49" fill="#861d22"/>
<circle cx="62.19" cy="86.51" r="1.87" fill="#6f1418"/>
<circle cx="64.30" cy="85.80" r="1.33" fill="#b83a3a"/>
<circle cx="60.25" cy="84.21" r="3.42" fill="#4f5a66" opacity="0.45"/>
<circle cx="60.40" cy="80.99" r="2.39" fill="#94232a"/>
<circle cx="60.56" cy="84.54" r="2.39" fill="#94232a"/>
<circle cx="57.40" cy="82.90" r="2.39" fill="#861d22"/>
<circle cx="59.45" cy="82.81" r="1.79" fill="#6f1418"/>
<circle cx="61.58" cy="82.61" r="1.28" fill="#b83a3a"/>
<circle cx="52.72" cy="81.06" r="3.62" fill="#4f5a66" opacity="0.45"/>
<circle cx="49.74" cy="79.74" r="2.54" fill="#9c282c"/>
<circle cx="52.93" cy="77.74" r="2.54" fill="#9c282c"/>
<circle cx="53.07" cy="81.50" r="2.54" fill="#9c282c"/>
<circle cx="51.92" cy="79.66" r="1.90" fill="#6f1418"/>
<circle cx="50.63" cy="77.80" r="1.36" fill="#b83a3a"/>
<circle cx="46.55" cy="72.15" r="3.62" fill="#4f5a66" opacity="0.45"/>
<circle cx="43.72" cy="70.00" r="2.53" fill="#9c282c"/>
<circle cx="47.42" cy="69.37" r="2.53" fill="#861d22"/>
<circle cx="46.12" cy="72.89" r="2.53" fill="#861d22"/>
<circle cx="45.75" cy="70.75" r="1.90" fill="#6f1418"/>
<circle cx="45.27" cy="68.54" r="1.36" fill="#b83a3a"/>
<circle cx="43.81" cy="65.30" r="3.40" fill="#4f5a66" opacity="0.45"/>
<circle cx="44.84" cy="64.82" r="2.38" fill="#94232a"/>
<circle cx="41.31" cy="65.02" r="2.38" fill="#94232a"/>
<circle cx="42.90" cy="61.87" r="2.38" fill="#861d22"/>
<circle cx="43.01" cy="63.90" r="1.79" fill="#6f1418"/>
<circle cx="43.23" cy="66.02" r="1.28" fill="#b83a3a"/>
<circle cx="41.76" cy="60.10" r="3.61" fill="#4f5a66" opacity="0.45"/>
<circle cx="38.85" cy="59.21" r="2.53" fill="#94232a"/>
<circle cx="41.56" cy="56.62" r="2.53" fill="#861d22"/>
<circle cx="42.46" cy="60.26" r="2.53" fill="#9c282c"/>
<circle cx="40.96" cy="58.70" r="1.90" fill="#6f1418"/>
<circle cx="39.32" cy="57.14" r="1.35" fill="#b83a3a"/>
<circle cx="41.07" cy="47.50" r="3.37" fill="#4f5a66" opacity="0.45"/>
<circle cx="38.83" cy="47.51" r="2.36" fill="#861d22"/>
<circle cx="39.78" cy="44.14" r="2.36" fill="#9c282c"/>
<circle cx="42.22" cy="46.64" r="2.36" fill="#94232a"/>
<circle cx="40.27" cy="46.10" r="1.77" fill="#6f1418"/>
<circle cx="38.22" cy="45.62" r="1.26" fill="#b83a3a"/>
<circle cx="45.87" cy="42.02" r="3.55" fill="#4f5a66" opacity="0.45"/>
<circle cx="46.68" cy="42.01" r="2.48" fill="#94232a"/>
<circle cx="43.06" cy="41.32" r="2.48" fill="#861d22"/>
<circle cx="45.47" cy="38.53" r="2.48" fill="#94232a"/>
<circle cx="45.07" cy="40.62" r="1.86" fill="#6f1418"/>
<circle cx="44.76" cy="42.81" r="1.33" fill="#b83a3a"/>
<circle cx="48.61" cy="50.24" r="3.94" fill="#4f5a66" opacity="0.45"/>
<circle cx="49.17" cy="50.77" r="2.76" fill="#861d22"/>
<circle cx="45.46" cy="49.05" r="2.76" fill="#9c282c"/>
<circle cx="48.80" cy="46.69" r="2.76" fill="#861d22"/>
<circle cx="47.81" cy="48.84" r="2.07" fill="#6f1418"/>
<circle cx="46.88" cy="51.12" r="1.48" fill="#b83a3a"/>
<circle cx="51.35" cy="32.43" r="3.84" fill="#4f5a66" opacity="0.45"/>
<circle cx="52.76" cy="30.37" r="2.69" fill="#9c282c"/>
<circle cx="50.01" cy="33.27" r="2.69" fill="#861d22"/>
<circle cx="48.87" cy="29.44" r="2.69" fill="#861d22"/>
<circle cx="50.55" cy="31.03" r="2.02" fill="#6f1418"/>
<circle cx="52.37" cy="32.59" r="1.44" fill="#b83a3a"/>
<circle cx="55.18" cy="31.88" r="3.42" fill="#4f5a66" opacity="0.45"/>
<circle cx="55.15" cy="32.38" r="2.39" fill="#9c282c"/>
<circle cx="52.35" cy="30.20" r="2.39" fill="#861d22"/>
<circle cx="55.64" cy="28.86" r="2.39" fill="#94232a"/>
<circle cx="54.38" cy="30.48" r="1.79" fill="#6f1418"/>
<circle cx="53.15" cy="32.22" r="1.28" fill="#b83a3a"/>
<circle cx="47.24" cy="55.72" r="3.57" fill="#4f5a66" opacity="0.45"/>
<circle cx="48.45" cy="53.59" r="2.50" fill="#861d22"/>
<circle cx="46.06" cy="56.42" r="2.50" fill="#9c282c"/>
<circle cx="44.80" cy="52.93" r="2.50" fill="#861d22"/>
<circle cx="46.44" cy="54.32" r="1.87" fill="#6f1418"/>
<circle cx="48.21" cy="55.67" r="1.34" fill="#b83a3a"/>
<circle cx="102.03" cy="83.11" r="3.77" fill="#4f5a66" opacity="0.45"/>
<circle cx="99.10" cy="82.45" r="2.64" fill="#9c282c"/>
<circle cx="101.66" cy="79.49" r="2.64" fill="#94232a"/>
<circle cx="102.94" cy="83.19" r="2.64" fill="#94232a"/>
<circle cx="101.23" cy="81.71" r="1.98" fill="#6f1418"/>
<circle cx="99.38" cy="80.26" r="1.41" fill="#b83a3a"/>
<circle cx="56.83" cy="37.91" r="3.45" fill="#4f5a66" opacity="0.45"/>
<circle cx="57.74" cy="37.66" r="2.42" fill="#861d22"/>
<circle cx="54.17" cy="37.42" r="2.42" fill="#861d22"/>
<circle cx="56.17" cy="34.44" r="2.42" fill="#861d22"/>
<circle cx="56.03" cy="36.51" r="1.81" fill="#6f1418"/>
<circle cx="55.98" cy="38.66" r="1.29" fill="#b83a3a"/>
</g>
<g id="logo">
<rect x="626.31" y="26.10" width="19.56" height="5.78" fill="#a5a3ab"/>
<rect x="662.60" y="49.62" width="20.07" height="5.88" fill="#a5a3ab"/>
<path fill="#179182" d="M644.56,8.26 L666.45,8.26 C666.25,16.16 664.83,24.27 660.57,33.40 C655.51,43.03 642.33,51.64 621.85,52.66 L621.85,31.17 L644.56,31.17 Z"/>
<path fill="#0f7d70" d="M644.56,8.26 L666.45,8.26 C666.35,13.12 665.85,17.68 664.63,22.25 C659.56,27.82 651.45,29.85 644.56,28.84 Z"/>
<path fill="#179182" d="M687.13,28.33 L687.13,50.43 L663.82,50.43 L663.82,72.73 L642.13,72.73 C642.84,62.79 647.40,51.64 655.51,43.03 C662.60,35.42 672.74,28.84 687.13,28.33 Z"/>
<path fill="#0f7d70" d="M663.82,50.83 L663.82,72.73 L642.13,72.73 C642.53,66.85 644.15,61.27 646.38,56.71 C651.45,52.66 657.53,50.83 663.82,50.83 Z"/>
<text x="622.66" y="64.62" font-size="11.2" fill="#9a979f" stroke="#9a979f" stroke-width="0.35" textLength="18.04" lengthAdjust="spacingAndGlyphs">SUS</text>
<rect x="627.33" y="66.34" width="11.76" height="1.72" fill="#b3b1b8"/>
<rect x="627.33" y="69.38" width="11.76" height="2.03" fill="#b3b1b8"/>
<text x="621.4" y="88.6" font-size="14.7" font-weight="bold" fill="#1a807a" textLength="65.8" lengthAdjust="spacingAndGlyphs">FUMSSAR</text>
<text x="621.7" y="94.0" font-size="2.9" fill="#666" textLength="65.3" lengthAdjust="spacingAndGlyphs">FUNDAÇÃO MUNICIPAL DE SAÚDE - SANTA ROSA/RS</text>
</g>
<g id="hdr">
<text x="183.00" y="59.00" font-size="15.8" text-anchor="start" font-weight="bold" fill="#111" stroke="#111" stroke-width="0.2" textLength="374.80" lengthAdjust="spacingAndGlyphs" >BOLETIM EPIDEMIOLÓGICO COVID– FUMSSAR</text>
<text x="189.90" y="82.80" font-size="15.8" text-anchor="start" font-weight="bold" fill="#111" stroke="#111" stroke-width="0.2" textLength="94.80" lengthAdjust="spacingAndGlyphs" >06/03/2021</text>
<text x="291.20" y="82.80" font-size="15.8" text-anchor="start" font-weight="bold" fill="#111" stroke="#111" stroke-width="0.2" textLength="8.80" lengthAdjust="spacingAndGlyphs" >–</text>
<text x="305.20" y="82.80" font-size="15.8" text-anchor="start" font-weight="bold" fill="#111" stroke="#111" stroke-width="0.2" textLength="244.20" lengthAdjust="spacingAndGlyphs" >SEMANA EPIDEMIOLÓGICA 09</text>
</g>
<g fill="none" stroke="#f1f6fa" stroke-width="3.5">
<path d="M710.2,113 V987.6 H28.6"/>
</g>
<g fill="none" stroke-width="1.7">
<path d="M26.2,989.8 V110.9 H712.6" stroke="#a9b7c1"/>
<path d="M712.6,110.9 V989.8 H26.2" stroke="#8ea3b9"/>
<line x1="26.2" y1="469.2" x2="712.6" y2="469.2" stroke="#93a7ba"/>
<line x1="26.2" y1="680.9" x2="712.6" y2="680.9" stroke="#93a7ba"/>
</g>
<line x1="376.6" y1="469.2" x2="376.6" y2="680.9" stroke="#5f7993" stroke-width="1.6"/>
<g id="bar">
<text x="197.70" y="138.50" font-size="19.0" text-anchor="start" font-weight="bold" fill="#111" stroke="#111" stroke-width="0.2" textLength="395.70" lengthAdjust="spacingAndGlyphs" >Casos confirmados de Covid-19 por semana</text>
<text x="151.40" y="165.00" font-size="19.0" text-anchor="start" font-weight="bold" fill="#111" stroke="#111" stroke-width="0.2" textLength="487.90" lengthAdjust="spacingAndGlyphs" >epidemiológica de notificação, Santa Rosa, 2020-2021</text>
<line x1="81.5" y1="408.80" x2="694.7" y2="408.80" stroke="#8c8c8c" stroke-width="1"/>
<text x="69.50" y="412.50" font-size="10.6" text-anchor="end" fill="#222" stroke="#222" stroke-width="0.22" >0</text>
<line x1="81.5" y1="369.98" x2="694.7" y2="369.98" stroke="#d0d0d0" stroke-width="1"/>
<text x="69.50" y="373.68" font-size="10.6" text-anchor="end" fill="#222" stroke="#222" stroke-width="0.22" >100</text>
<line x1="81.5" y1="331.16" x2="694.7" y2="331.16" stroke="#d0d0d0" stroke-width="1"/>
<text x="69.50" y="334.86" font-size="10.6" text-anchor="end" fill="#222" stroke="#222" stroke-width="0.22" >200</text>
<line x1="81.5" y1="292.34" x2="694.7" y2="292.34" stroke="#d0d0d0" stroke-width="1"/>
<text x="69.50" y="296.04" font-size="10.6" text-anchor="end" fill="#222" stroke="#222" stroke-width="0.22" >300</text>
<line x1="81.5" y1="253.52" x2="694.7" y2="253.52" stroke="#d0d0d0" stroke-width="1"/>
<text x="69.50" y="257.22" font-size="10.6" text-anchor="end" fill="#222" stroke="#222" stroke-width="0.22" >400</text>
<line x1="81.5" y1="214.70" x2="694.7" y2="214.70" stroke="#d0d0d0" stroke-width="1"/>
<text x="69.50" y="218.40" font-size="10.6" text-anchor="end" fill="#222" stroke="#222" stroke-width="0.22" >500</text>
<line x1="81.5" y1="175.88" x2="694.7" y2="175.88" stroke="#d0d0d0" stroke-width="1"/>
<text x="69.50" y="179.58" font-size="10.6" text-anchor="end" fill="#222" stroke="#222" stroke-width="0.22" >600</text>
<text transform="translate(41.2,298.4) rotate(-90)" text-anchor="middle" font-size="10.4" font-weight="bold" fill="#111" stroke="#111" stroke-width="0.22" textLength="58.5" lengthAdjust="spacingAndGlyphs">Nº de casos</text>
<text x="88.30" y="426.30" font-size="10.1" text-anchor="middle" fill="#222" stroke="#222" stroke-width="0.22" >12</text>
<text x="101.93" y="426.30" font-size="10.1" text-anchor="middle" fill="#222" stroke="#222" stroke-width="0.22" >19</text>
<text x="115.55" y="426.30" font-size="10.1" text-anchor="middle" fill="#222" stroke="#222" stroke-width="0.22" >20</text>
<text x="129.18" y="426.30" font-size="10.1" text-anchor="middle" fill="#222" stroke="#222" stroke-width="0.22" >21</text>
<text x="142.81" y="426.30" font-size="10.1" text-anchor="middle" fill="#222" stroke="#222" stroke-width="0.22" >22</text>
<text x="156.44" y="426.30" font-size="10.1" text-anchor="middle" fill="#222" stroke="#222" stroke-width="0.22" >23</text>
<text x="170.06" y="426.30" font-size="10.1" text-anchor="middle" fill="#222" stroke="#222" stroke-width="0.22" >24</text>
<text x="183.69" y="426.30" font-size="10.1" text-anchor="middle" fill="#222" stroke="#222" stroke-width="0.22" >25</text>
<text x="197.32" y="426.30" font-size="10.1" text-anchor="middle" fill="#222" stroke="#222" stroke-width="0.22" >26</text>
<text x="210.94" y="426.30" font-size="10.1" text-anchor="middle" fill="#222" stroke="#222" stroke-width="0.22" >27</text>
<text x="224.57" y="426.30" font-size="10.1" text-anchor="middle" fill="#222" stroke="#222" stroke-width="0.22" >28</text>
<text x="238.20" y="426.30" font-size="10.1" text-anchor="middle" fill="#222" stroke="#222" stroke-width="0.22" >29</text>
<text x="251.82" y="426.30" font-size="10.1" text-anchor="middle" fill="#222" stroke="#222" stroke-width="0.22" >30</text>
<text x="265.45" y="426.30" font-size="10.1" text-anchor="middle" fill="#222" stroke="#222" stroke-width="0.22" >31</text>
<text x="279.08" y="426.30" font-size="10.1" text-anchor="middle" fill="#222" stroke="#222" stroke-width="0.22" >32</text>
<text x="292.70" y="426.30" font-size="10.1" text-anchor="middle" fill="#222" stroke="#222" stroke-width="0.22" >33</text>
<text x="306.33" y="426.30" font-size="10.1" text-anchor="middle" fill="#222" stroke="#222" stroke-width="0.22" >34</text>
<text x="319.96" y="426.30" font-size="10.1" text-anchor="middle" fill="#222" stroke="#222" stroke-width="0.22" >35</text>
<text x="333.59" y="426.30" font-size="10.1" text-anchor="middle" fill="#222" stroke="#222" stroke-width="0.22" >36</text>
<text x="347.21" y="426.30" font-size="10.1" text-anchor="middle" fill="#222" stroke="#222" stroke-width="0.22" >37</text>
<text x="360.84" y="426.30" font-size="10.1" text-anchor="middle" fill="#222" stroke="#222" stroke-width="0.22" >38</text>
<text x="374.47" y="426.30" font-size="10.1" text-anchor="middle" fill="#222" stroke="#222" stroke-width="0.22" >39</text>
<text x="388.09" y="426.30" font-size="10.1" text-anchor="middle" fill="#222" stroke="#222" stroke-width="0.22" >40</text>
<text x="401.72" y="426.30" font-size="10.1" text-anchor="middle" fill="#222" stroke="#222" stroke-width="0.22" >41</text>
<text x="415.35" y="426.30" font-size="10.1" text-anchor="middle" fill="#222" stroke="#222" stroke-width="0.22" >42</text>
<text x="428.98" y="426.30" font-size="10.1" text-anchor="middle" fill="#222" stroke="#222" stroke-width="0.22" >43</text>
<text x="442.60" y="426.30" font-size="10.1" text-anchor="middle" fill="#222" stroke="#222" stroke-width="0.22" >44</text>
<text x="456.23" y="426.30" font-size="10.1" text-anchor="middle" fill="#222" stroke="#222" stroke-width="0.22" >45</text>
<text x="469.86" y="426.30" font-size="10.1" text-anchor="middle" fill="#222" stroke="#222" stroke-width="0.22" >46</text>
<text x="483.48" y="426.30" font-size="10.1" text-anchor="middle" fill="#222" stroke="#222" stroke-width="0.22" >47</text>
<text x="497.11" y="426.30" font-size="10.1" text-anchor="middle" fill="#222" stroke="#222" stroke-width="0.22" >48</text>
<text x="510.74" y="426.30" font-size="10.1" text-anchor="middle" fill="#222" stroke="#222" stroke-width="0.22" >49</text>
<text x="524.36" y="426.30" font-size="10.1" text-anchor="middle" fill="#222" stroke="#222" stroke-width="0.22" >50</text>
<text x="537.99" y="426.30" font-size="10.1" text-anchor="middle" fill="#222" stroke="#222" stroke-width="0.22" >51</text>
<text x="551.62" y="426.30" font-size="10.1" text-anchor="middle" fill="#222" stroke="#222" stroke-width="0.22" >52</text>
<text x="565.25" y="426.30" font-size="10.1" text-anchor="middle" fill="#222" stroke="#222" stroke-width="0.22" >53</text>
<text x="578.87" y="426.30" font-size="10.1" text-anchor="middle" fill="#222" stroke="#222" stroke-width="0.22" >1</text>
<text x="592.50" y="426.30" font-size="10.1" text-anchor="middle" fill="#222" stroke="#222" stroke-width="0.22" >2</text>
<text x="606.13" y="426.30" font-size="10.1" text-anchor="middle" fill="#222" stroke="#222" stroke-width="0.22" >3</text>
<text x="619.75" y="426.30" font-size="10.1" text-anchor="middle" fill="#222" stroke="#222" stroke-width="0.22" >4</text>
<text x="633.38" y="426.30" font-size="10.1" text-anchor="middle" fill="#222" stroke="#222" stroke-width="0.22" >5</text>
<text x="647.01" y="426.30" font-size="10.1" text-anchor="middle" fill="#222" stroke="#222" stroke-width="0.22" >6</text>
<text x="660.63" y="426.30" font-size="10.1" text-anchor="middle" fill="#222" stroke="#222" stroke-width="0.22" >7</text>
<text x="674.26" y="426.30" font-size="10.1" text-anchor="middle" fill="#222" stroke="#222" stroke-width="0.22" >8</text>
<text x="687.89" y="426.30" font-size="10.1" text-anchor="middle" fill="#222" stroke="#222" stroke-width="0.22" >9</text>
<text x="88.30" y="439.60" font-size="10.1" text-anchor="middle" fill="#222" stroke="#222" stroke-width="0.22" >a</text>
<text x="88.30" y="453.10" font-size="10.1" text-anchor="middle" fill="#222" stroke="#222" stroke-width="0.22" >18</text>
<g fill="#4a7ebb"><rect x="83.50" y="406.47" width="4.5" height="2.33"/><rect x="97.13" y="407.64" width="4.5" height="1.16"/><rect x="110.75" y="408.02" width="4.5" height="0.78"/><rect x="124.38" y="405.69" width="4.5" height="3.11"/><rect x="138.01" y="407.64" width="4.5" height="1.16"/><rect x="151.63" y="406.08" width="4.5" height="2.72"/><rect x="165.26" y="404.14" width="4.5" height="4.66"/><rect x="178.89" y="402.20" width="4.5" height="6.60"/><rect x="192.52" y="397.15" width="4.5" height="11.65"/><rect x="206.14" y="395.21" width="4.5" height="13.59"/><rect x="219.77" y="391.72" width="4.5" height="17.08"/><rect x="233.40" y="382.01" width="4.5" height="26.79"/><rect x="247.02" y="361.05" width="4.5" height="47.75"/><rect x="260.65" y="355.62" width="4.5" height="53.18"/><rect x="274.28" y="345.14" width="4.5" height="63.66"/><rect x="287.90" y="362.99" width="4.5" height="45.81"/><rect x="301.53" y="354.84" width="4.5" height="53.96"/><rect x="315.16" y="357.95" width="4.5" height="50.85"/><rect x="328.79" y="362.60" width="4.5" height="46.20"/><rect x="342.41" y="365.71" width="4.5" height="43.09"/><rect x="356.04" y="367.65" width="4.5" height="41.15"/><rect x="369.67" y="375.80" width="4.5" height="33.00"/><rect x="383.29" y="375.80" width="4.5" height="33.00"/><rect x="396.92" y="379.30" width="4.5" height="29.50"/><rect x="410.55" y="382.79" width="4.5" height="26.01"/><rect x="424.18" y="351.35" width="4.5" height="57.45"/><rect x="437.80" y="340.87" width="4.5" height="67.94"/><rect x="451.43" y="333.88" width="4.5" height="74.92"/><rect x="465.06" y="314.47" width="4.5" height="94.33"/><rect x="478.68" y="307.09" width="4.5" height="101.71"/><rect x="492.31" y="293.89" width="4.5" height="114.91"/><rect x="505.94" y="277.20" width="4.5" height="131.60"/><rect x="519.56" y="291.18" width="4.5" height="117.62"/><rect x="533.19" y="303.21" width="4.5" height="105.59"/><rect x="546.82" y="293.12" width="4.5" height="115.68"/><rect x="560.45" y="286.91" width="4.5" height="121.89"/><rect x="574.07" y="239.16" width="4.5" height="169.64"/><rect x="587.70" y="279.14" width="4.5" height="129.66"/><rect x="601.33" y="279.14" width="4.5" height="129.66"/><rect x="614.95" y="285.35" width="4.5" height="123.45"/><rect x="628.58" y="270.99" width="4.5" height="137.81"/><rect x="642.21" y="260.51" width="4.5" height="148.29"/><rect x="655.83" y="253.52" width="4.5" height="155.28"/><rect x="669.46" y="213.15" width="4.5" height="195.65"/><rect x="683.09" y="180.93" width="4.5" height="227.87"/></g>
<g fill="#c4262c"><rect x="102.43" y="408.41" width="4.5" height="0.39"/><rect x="143.31" y="408.41" width="4.5" height="0.39"/><rect x="225.07" y="408.02" width="4.5" height="0.78"/><rect x="238.70" y="408.41" width="4.5" height="0.39"/><rect x="252.32" y="407.64" width="4.5" height="1.16"/><rect x="279.58" y="408.02" width="4.5" height="0.78"/><rect x="293.20" y="408.02" width="4.5" height="0.78"/><rect x="306.83" y="407.25" width="4.5" height="1.55"/><rect x="320.46" y="407.25" width="4.5" height="1.55"/><rect x="334.09" y="406.86" width="4.5" height="1.94"/><rect x="347.71" y="408.41" width="4.5" height="0.39"/><rect x="361.34" y="408.41" width="4.5" height="0.39"/><rect x="374.97" y="408.02" width="4.5" height="0.78"/><rect x="388.59" y="408.02" width="4.5" height="0.78"/><rect x="402.22" y="408.02" width="4.5" height="0.78"/><rect x="415.85" y="408.02" width="4.5" height="0.78"/><rect x="497.61" y="408.02" width="4.5" height="0.78"/><rect x="511.24" y="407.64" width="4.5" height="1.16"/><rect x="524.86" y="407.64" width="4.5" height="1.16"/><rect x="538.49" y="407.25" width="4.5" height="1.55"/><rect x="552.12" y="406.86" width="4.5" height="1.94"/><rect x="565.75" y="406.86" width="4.5" height="1.94"/><rect x="579.37" y="408.41" width="4.5" height="0.39"/><rect x="593.00" y="408.41" width="4.5" height="0.39"/><rect x="606.63" y="407.64" width="4.5" height="1.16"/><rect x="620.25" y="407.64" width="4.5" height="1.16"/><rect x="633.88" y="408.41" width="4.5" height="0.39"/><rect x="647.51" y="407.25" width="4.5" height="1.55"/><rect x="661.13" y="408.41" width="4.5" height="0.39"/><rect x="674.76" y="408.02" width="4.5" height="0.78"/><rect x="688.39" y="406.86" width="4.5" height="1.94"/></g>
<text x="85.50" y="397.57" font-size="9.3" text-anchor="middle" fill="#1e1e1e" stroke="#1e1e1e" stroke-width="0.22" >6</text>
<text x="99.13" y="398.74" font-size="9.3" text-anchor="middle" fill="#1e1e1e" stroke="#1e1e1e" stroke-width="0.22" >3</text>
<text x="112.75" y="399.12" font-size="9.3" text-anchor="middle" fill="#1e1e1e" stroke="#1e1e1e" stroke-width="0.22" >2</text>
<text x="126.38" y="396.79" font-size="9.3" text-anchor="middle" fill="#1e1e1e" stroke="#1e1e1e" stroke-width="0.22" >8</text>
<text x="140.01" y="398.74" font-size="9.3" text-anchor="middle" fill="#1e1e1e" stroke="#1e1e1e" stroke-width="0.22" >3</text>
<text x="153.63" y="397.18" font-size="9.3" text-anchor="middle" fill="#1e1e1e" stroke="#1e1e1e" stroke-width="0.22" >7</text>
<text x="167.26" y="395.24" font-size="9.3" text-anchor="middle" fill="#1e1e1e" stroke="#1e1e1e" stroke-width="0.22" >12</text>
<text x="180.89" y="393.30" font-size="9.3" text-anchor="middle" fill="#1e1e1e" stroke="#1e1e1e" stroke-width="0.22" >17</text>
<text x="194.52" y="388.25" font-size="9.3" text-anchor="middle" fill="#1e1e1e" stroke="#1e1e1e" stroke-width="0.22" >30</text>
<text x="208.14" y="386.31" font-size="9.3" text-anchor="middle" fill="#1e1e1e" stroke="#1e1e1e" stroke-width="0.22" >35</text>
<text x="221.77" y="382.82" font-size="9.3" text-anchor="middle" fill="#1e1e1e" stroke="#1e1e1e" stroke-width="0.22" >44</text>
<text x="235.40" y="373.11" font-size="9.3" text-anchor="middle" fill="#1e1e1e" stroke="#1e1e1e" stroke-width="0.22" >69</text>
<text x="249.02" y="352.15" font-size="9.3" text-anchor="middle" fill="#1e1e1e" stroke="#1e1e1e" stroke-width="0.22" >123</text>
<text x="262.65" y="346.72" font-size="9.3" text-anchor="middle" fill="#1e1e1e" stroke="#1e1e1e" stroke-width="0.22" >137</text>
<text x="276.28" y="336.24" font-size="9.3" text-anchor="middle" fill="#1e1e1e" stroke="#1e1e1e" stroke-width="0.22" >164</text>
<text x="289.90" y="354.09" font-size="9.3" text-anchor="middle" fill="#1e1e1e" stroke="#1e1e1e" stroke-width="0.22" >118</text>
<text x="303.53" y="345.94" font-size="9.3" text-anchor="middle" fill="#1e1e1e" stroke="#1e1e1e" stroke-width="0.22" >139</text>
<text x="317.16" y="349.05" font-size="9.3" text-anchor="middle" fill="#1e1e1e" stroke="#1e1e1e" stroke-width="0.22" >131</text>
<text x="330.79" y="353.70" font-size="9.3" text-anchor="middle" fill="#1e1e1e" stroke="#1e1e1e" stroke-width="0.22" >119</text>
<text x="344.41" y="356.81" font-size="9.3" text-anchor="middle" fill="#1e1e1e" stroke="#1e1e1e" stroke-width="0.22" >111</text>
<text x="358.04" y="358.75" font-size="9.3" text-anchor="middle" fill="#1e1e1e" stroke="#1e1e1e" stroke-width="0.22" >106</text>
<text x="371.67" y="366.90" font-size="9.3" text-anchor="middle" fill="#1e1e1e" stroke="#1e1e1e" stroke-width="0.22" >85</text>
<text x="385.29" y="366.90" font-size="9.3" text-anchor="middle" fill="#1e1e1e" stroke="#1e1e1e" stroke-width="0.22" >85</text>
<text x="398.92" y="370.40" font-size="9.3" text-anchor="middle" fill="#1e1e1e" stroke="#1e1e1e" stroke-width="0.22" >76</text>
<text x="412.55" y="373.89" font-size="9.3" text-anchor="middle" fill="#1e1e1e" stroke="#1e1e1e" stroke-width="0.22" >67</text>
<text x="426.18" y="342.45" font-size="9.3" text-anchor="middle" fill="#1e1e1e" stroke="#1e1e1e" stroke-width="0.22" >148</text>
<text x="439.80" y="331.97" font-size="9.3" text-anchor="middle" fill="#1e1e1e" stroke="#1e1e1e" stroke-width="0.22" >175</text>
<text x="453.43" y="324.98" font-size="9.3" text-anchor="middle" fill="#1e1e1e" stroke="#1e1e1e" stroke-width="0.22" >193</text>
<text x="467.06" y="305.57" font-size="9.3" text-anchor="middle" fill="#1e1e1e" stroke="#1e1e1e" stroke-width="0.22" >243</text>
<text x="480.68" y="298.19" font-size="9.3" text-anchor="middle" fill="#1e1e1e" stroke="#1e1e1e" stroke-width="0.22" >262</text>
<text x="494.31" y="284.99" font-size="9.3" text-anchor="middle" fill="#1e1e1e" stroke="#1e1e1e" stroke-width="0.22" >296</text>
<text x="507.94" y="268.30" font-size="9.3" text-anchor="middle" fill="#1e1e1e" stroke="#1e1e1e" stroke-width="0.22" >339</text>
<text x="521.56" y="282.28" font-size="9.3" text-anchor="middle" fill="#1e1e1e" stroke="#1e1e1e" stroke-width="0.22" >303</text>
<text x="535.19" y="294.31" font-size="9.3" text-anchor="middle" fill="#1e1e1e" stroke="#1e1e1e" stroke-width="0.22" >272</text>
<text x="549.10" y="288.00" font-size="9.3" text-anchor="middle" fill="#1e1e1e" stroke="#1e1e1e" stroke-width="0.22" >298</text>
<text x="562.45" y="278.01" font-size="9.3" text-anchor="middle" fill="#1e1e1e" stroke="#1e1e1e" stroke-width="0.22" >314</text>
<text x="576.07" y="230.26" font-size="9.3" text-anchor="middle" fill="#1e1e1e" stroke="#1e1e1e" stroke-width="0.22" >437</text>
<text x="586.10" y="274.00" font-size="9.3" text-anchor="middle" fill="#1e1e1e" stroke="#1e1e1e" stroke-width="0.22" >334</text>
<text x="607.10" y="273.00" font-size="9.3" text-anchor="middle" fill="#1e1e1e" stroke="#1e1e1e" stroke-width="0.22" >334</text>
<text x="616.90" y="287.10" font-size="9.3" text-anchor="middle" fill="#1e1e1e" stroke="#1e1e1e" stroke-width="0.22" >318</text>
<text x="633.00" y="267.40" font-size="9.3" text-anchor="middle" fill="#1e1e1e" stroke="#1e1e1e" stroke-width="0.22" >355</text>
<text x="644.21" y="251.61" font-size="9.3" text-anchor="middle" fill="#1e1e1e" stroke="#1e1e1e" stroke-width="0.22" >382</text>
<text x="657.83" y="244.62" font-size="9.3" text-anchor="middle" fill="#1e1e1e" stroke="#1e1e1e" stroke-width="0.22" >400</text>
<text x="671.46" y="204.25" font-size="9.3" text-anchor="middle" fill="#1e1e1e" stroke="#1e1e1e" stroke-width="0.22" >504</text>
<text x="685.09" y="172.03" font-size="9.3" text-anchor="middle" fill="#1e1e1e" stroke="#1e1e1e" stroke-width="0.22" >587</text>
<text x="104.63" y="399.81" font-size="10.2" text-anchor="middle" fill="#c0504d" stroke="#c0504d" stroke-width="0.22" >1</text>
<text x="145.51" y="399.81" font-size="10.2" text-anchor="middle" fill="#c0504d" stroke="#c0504d" stroke-width="0.22" >1</text>
<text x="227.27" y="399.42" font-size="10.2" text-anchor="middle" fill="#c0504d" stroke="#c0504d" stroke-width="0.22" >2</text>
<text x="240.90" y="399.81" font-size="10.2" text-anchor="middle" fill="#c0504d" stroke="#c0504d" stroke-width="0.22" >1</text>
<text x="254.52" y="399.04" font-size="10.2" text-anchor="middle" fill="#c0504d" stroke="#c0504d" stroke-width="0.22" >3</text>
<text x="281.78" y="399.42" font-size="10.2" text-anchor="middle" fill="#c0504d" stroke="#c0504d" stroke-width="0.22" >2</text>
<text x="295.40" y="399.42" font-size="10.2" text-anchor="middle" fill="#c0504d" stroke="#c0504d" stroke-width="0.22" >2</text>
<text x="309.03" y="398.65" font-size="10.2" text-anchor="middle" fill="#c0504d" stroke="#c0504d" stroke-width="0.22" >4</text>
<text x="322.66" y="398.65" font-size="10.2" text-anchor="middle" fill="#c0504d" stroke="#c0504d" stroke-width="0.22" >4</text>
<text x="336.29" y="398.26" font-size="10.2" text-anchor="middle" fill="#c0504d" stroke="#c0504d" stroke-width="0.22" >5</text>
<text x="349.91" y="399.81" font-size="10.2" text-anchor="middle" fill="#c0504d" stroke="#c0504d" stroke-width="0.22" >1</text>
<text x="363.54" y="399.81" font-size="10.2" text-anchor="middle" fill="#c0504d" stroke="#c0504d" stroke-width="0.22" >1</text>
<text x="377.17" y="399.42" font-size="10.2" text-anchor="middle" fill="#c0504d" stroke="#c0504d" stroke-width="0.22" >2</text>
<text x="390.79" y="399.42" font-size="10.2" text-anchor="middle" fill="#c0504d" stroke="#c0504d" stroke-width="0.22" >2</text>
<text x="404.42" y="399.42" font-size="10.2" text-anchor="middle" fill="#c0504d" stroke="#c0504d" stroke-width="0.22" >2</text>
<text x="418.05" y="399.42" font-size="10.2" text-anchor="middle" fill="#c0504d" stroke="#c0504d" stroke-width="0.22" >2</text>
<text x="499.81" y="399.42" font-size="10.2" text-anchor="middle" fill="#c0504d" stroke="#c0504d" stroke-width="0.22" >2</text>
<text x="513.44" y="399.04" font-size="10.2" text-anchor="middle" fill="#c0504d" stroke="#c0504d" stroke-width="0.22" >3</text>
<text x="527.06" y="399.04" font-size="10.2" text-anchor="middle" fill="#c0504d" stroke="#c0504d" stroke-width="0.22" >3</text>
<text x="540.69" y="398.65" font-size="10.2" text-anchor="middle" fill="#c0504d" stroke="#c0504d" stroke-width="0.22" >4</text>
<text x="554.32" y="398.26" font-size="10.2" text-anchor="middle" fill="#c0504d" stroke="#c0504d" stroke-width="0.22" >5</text>
<text x="567.95" y="398.26" font-size="10.2" text-anchor="middle" fill="#c0504d" stroke="#c0504d" stroke-width="0.22" >5</text>
<text x="581.57" y="399.81" font-size="10.2" text-anchor="middle" fill="#c0504d" stroke="#c0504d" stroke-width="0.22" >1</text>
<text x="595.20" y="399.81" font-size="10.2" text-anchor="middle" fill="#c0504d" stroke="#c0504d" stroke-width="0.22" >1</text>
<text x="608.83" y="399.04" font-size="10.2" text-anchor="middle" fill="#c0504d" stroke="#c0504d" stroke-width="0.22" >3</text>
<text x="622.45" y="399.04" font-size="10.2" text-anchor="middle" fill="#c0504d" stroke="#c0504d" stroke-width="0.22" >3</text>
<text x="636.08" y="399.81" font-size="10.2" text-anchor="middle" fill="#c0504d" stroke="#c0504d" stroke-width="0.22" >1</text>
<text x="649.71" y="398.65" font-size="10.2" text-anchor="middle" fill="#c0504d" stroke="#c0504d" stroke-width="0.22" >4</text>
<text x="663.33" y="399.81" font-size="10.2" text-anchor="middle" fill="#c0504d" stroke="#c0504d" stroke-width="0.22" >1</text>
<text x="676.96" y="399.42" font-size="10.2" text-anchor="middle" fill="#c0504d" stroke="#c0504d" stroke-width="0.22" >2</text>
<text x="690.59" y="398.26" font-size="10.2" text-anchor="middle" fill="#c0504d" stroke="#c0504d" stroke-width="0.22" >5</text>
<text x="248.20" y="448.60" font-size="10.3" text-anchor="start" font-weight="bold" fill="#111" stroke="#111" stroke-width="0.2" textLength="120.40" lengthAdjust="spacingAndGlyphs" >Semana epidemiológica</text>
<rect x="459.8" y="442.7" width="4.9" height="4.9" fill="#4a7ebb"/>
<text x="467.20" y="447.80" font-size="8.4" text-anchor="start" fill="#222" stroke="#222" stroke-width="0.22" textLength="83.30" lengthAdjust="spacingAndGlyphs" >Nº DE CASOS NOVOS</text>
<rect x="597.0" y="442.7" width="4.9" height="4.9" fill="#c4262c"/>
<text x="604.60" y="447.80" font-size="8.4" text-anchor="start" fill="#222" stroke="#222" stroke-width="0.22" textLength="29.30" lengthAdjust="spacingAndGlyphs" >OBITOS</text>
<rect x="109.3" y="183.2" width="244.5" height="71.2" fill="#3c3a48"/>
<rect x="108.1" y="182.0" width="244.5" height="71.2" fill="#e4e0ee" stroke="#33313f" stroke-width="1.3"/>
<text x="117.60" y="196.50" font-size="8.8" text-anchor="start" font-style="italic" fill="#222" stroke="#222" stroke-width="0.12" textLength="225.40" lengthAdjust="spacing" >* Os dados são parciais e sujeitos a alterações Há</text>
<text x="117.40" y="212.10" font-size="8.8" text-anchor="start" font-style="italic" fill="#222" stroke="#222" stroke-width="0.12" textLength="187.10" lengthAdjust="spacing" >inúmeras amostras aguardando resultado</text>
<text x="117.40" y="239.60" font-size="8.8" text-anchor="start" font-style="italic" fill="#222" stroke="#222" stroke-width="0.12" textLength="159.40" lengthAdjust="spacing" xml:space="preserve">Semana 09: 28/02/21  A 06/032021</text>
</g>
<g id="pie1">
<text x="98.10" y="498.30" font-size="18.8" text-anchor="start" font-weight="bold" fill="#111" stroke="#111" stroke-width="0.2" textLength="205.40" lengthAdjust="spacingAndGlyphs" >Classificação dos casos</text>
<path d="M151.5,588.0 L126.56,505.38 A86.3,86.3 0 1 1 65.79,598.07 Z" fill="#c0504d"/>
<path d="M151.5,588.0 L65.41,581.98 A86.3,86.3 0 0 1 126.56,505.38 Z" fill="#4f81bd"/>
<path d="M151.5,588.0 L65.79,598.07 A86.3,86.3 0 0 1 65.41,581.98 Z" fill="#9bbb59"/>
<text x="57.90" y="532.70" font-size="10.8" text-anchor="start" fill="#1a1a1a" stroke="#1a1a1a" stroke-width="0.22" textLength="57.60" lengthAdjust="spacingAndGlyphs" >1.563 ; 19%</text>
<text x="36.90" y="587.30" font-size="10.8" text-anchor="start" fill="#1a1a1a" stroke="#1a1a1a" stroke-width="0.22" textLength="24.30" lengthAdjust="spacingAndGlyphs" >239 ;</text>
<text x="40.70" y="601.70" font-size="10.8" text-anchor="start" fill="#1a1a1a" stroke="#1a1a1a" stroke-width="0.22" textLength="14.30" lengthAdjust="spacingAndGlyphs" >3%</text>
</g>
<text x="169.20" y="610.20" font-size="10.8" text-anchor="start" fill="#3a1010" stroke="#3a1010" stroke-width="0.22" textLength="57.30" lengthAdjust="spacingAndGlyphs" >6.389 ; 78%</text>
<rect x="259.8" y="570.7" width="6.7" height="6.7" fill="#4f81bd"/>
<text x="269.20" y="576.60" font-size="10.1" text-anchor="start" fill="#222" stroke="#222" stroke-width="0.22" textLength="90.10" lengthAdjust="spacingAndGlyphs" >ASSINTOMATICOS</text>
<rect x="259.8" y="593.2" width="6.7" height="6.7" fill="#c0504d"/>
<text x="269.20" y="599.10" font-size="10.1" text-anchor="start" fill="#222" stroke="#222" stroke-width="0.22" textLength="93.50" lengthAdjust="spacingAndGlyphs" >SINDROME GRIPAL</text>
<rect x="259.8" y="615.4" width="6.7" height="6.7" fill="#9bbb59"/>
<text x="269.20" y="621.30" font-size="10.1" text-anchor="start" fill="#222" stroke="#222" stroke-width="0.22" textLength="26.40" lengthAdjust="spacingAndGlyphs" >SRAG</text>
<g id="pie2">
<text x="446.30" y="495.60" font-size="18.8" text-anchor="start" font-weight="bold" fill="#111" stroke="#111" stroke-width="0.2" textLength="191.70" lengthAdjust="spacingAndGlyphs" >Distribuição por sexo</text>
<path d="M533.4,586.9 L550.46,507.31 A81.4,81.4 0 0 1 533.40,668.30 Z" fill="#c0504d"/>
<path d="M533.4,586.9 L533.40,668.30 A81.4,81.4 0 1 1 550.46,507.31 Z" fill="#4f81bd"/>
<text x="456.80" y="580.80" font-size="10.8" text-anchor="start" fill="#0e1c30" stroke="#0e1c30" stroke-width="0.22" textLength="52.60" lengthAdjust="spacingAndGlyphs" >4380; 53%</text>
<text x="554.10" y="599.80" font-size="10.8" text-anchor="start" fill="#2a0c0c" stroke="#2a0c0c" stroke-width="0.22" textLength="52.30" lengthAdjust="spacingAndGlyphs" >3811; 47%</text>
<rect x="452.0" y="657.0" width="6.7" height="6.7" fill="#4f81bd"/>
<text x="461.70" y="663.40" font-size="10.3" text-anchor="start" fill="#222" stroke="#222" stroke-width="0.22" textLength="51.50" lengthAdjust="spacingAndGlyphs" >FEMININO</text>
<rect x="576.0" y="657.0" width="6.7" height="6.7" fill="#c0504d"/>
<text x="586.20" y="663.40" font-size="10.3" text-anchor="start" fill="#222" stroke="#222" stroke-width="0.22" textLength="61.20" lengthAdjust="spacingAndGlyphs" >MASCULINO</text>
</g>
<g id="age">
<text x="184.20" y="717.70" font-size="18.8" text-anchor="start" font-weight="bold" fill="#111" stroke="#111" stroke-width="0.2" textLength="397.00" lengthAdjust="spacingAndGlyphs" xml:space="preserve">Casos confirmados e óbitos  por faixa etária</text>
<line x1="186.68" y1="736.8" x2="186.68" y2="954.9" stroke="#cfcfcf" stroke-width="1"/>
<line x1="241.96" y1="736.8" x2="241.96" y2="954.9" stroke="#cfcfcf" stroke-width="1"/>
<line x1="297.24" y1="736.8" x2="297.24" y2="954.9" stroke="#cfcfcf" stroke-width="1"/>
<line x1="352.52" y1="736.8" x2="352.52" y2="954.9" stroke="#cfcfcf" stroke-width="1"/>
<line x1="407.80" y1="736.8" x2="407.80" y2="954.9" stroke="#cfcfcf" stroke-width="1"/>
<line x1="463.08" y1="736.8" x2="463.08" y2="954.9" stroke="#cfcfcf" stroke-width="1"/>
<line x1="518.36" y1="736.8" x2="518.36" y2="954.9" stroke="#cfcfcf" stroke-width="1"/>
<line x1="573.64" y1="736.8" x2="573.64" y2="954.9" stroke="#cfcfcf" stroke-width="1"/>
<line x1="628.92" y1="736.8" x2="628.92" y2="954.9" stroke="#cfcfcf" stroke-width="1"/>
<rect x="131.4" y="748.40" width="38.97" height="6.80" fill="#4a7ebb"/>
<rect x="131.4" y="741.60" width="6.36" height="6.80" fill="#e0141c"/>
<text x="45.90" y="751.60" font-size="10.6" text-anchor="start" fill="#222" stroke="#222" stroke-width="0.22" textLength="73.50" lengthAdjust="spacingAndGlyphs" >80 anos e mais</text>
<text x="144.76" y="748.70" font-size="10.6" text-anchor="start" fill="#1e1e1e" stroke="#1e1e1e" stroke-width="0.22" >23</text>
<text x="177.57" y="755.20" font-size="10.6" text-anchor="start" fill="#1e1e1e" stroke="#1e1e1e" stroke-width="0.22" >141</text>
<rect x="131.4" y="772.83" width="86.24" height="6.80" fill="#4a7ebb"/>
<rect x="131.4" y="766.03" width="5.80" height="6.80" fill="#e0141c"/>
<text x="57.00" y="776.03" font-size="10.6" text-anchor="start" fill="#222" stroke="#222" stroke-width="0.22" textLength="62.40" lengthAdjust="spacingAndGlyphs" >70 a 79 anos</text>
<text x="144.20" y="773.13" font-size="10.6" text-anchor="start" fill="#1e1e1e" stroke="#1e1e1e" stroke-width="0.22" >21</text>
<text x="224.84" y="779.63" font-size="10.6" text-anchor="start" fill="#1e1e1e" stroke="#1e1e1e" stroke-width="0.22" >312</text>
<rect x="131.4" y="797.26" width="176.90" height="6.80" fill="#4a7ebb"/>
<rect x="131.4" y="790.46" width="5.53" height="6.80" fill="#e0141c"/>
<text x="57.00" y="800.46" font-size="10.6" text-anchor="start" fill="#222" stroke="#222" stroke-width="0.22" textLength="62.40" lengthAdjust="spacingAndGlyphs" >60 a 69 anos</text>
<text x="143.93" y="797.56" font-size="10.6" text-anchor="start" fill="#1e1e1e" stroke="#1e1e1e" stroke-width="0.22" >20</text>
<text x="315.50" y="804.06" font-size="10.6" text-anchor="start" fill="#1e1e1e" stroke="#1e1e1e" stroke-width="0.22" >640</text>
<rect x="131.4" y="821.69" width="296.85" height="6.80" fill="#4a7ebb"/>
<rect x="131.4" y="814.89" width="1.11" height="6.80" fill="#e0141c"/>
<text x="57.00" y="824.89" font-size="10.6" text-anchor="start" fill="#222" stroke="#222" stroke-width="0.22" textLength="62.40" lengthAdjust="spacingAndGlyphs" >50 a 59 anos</text>
<text x="139.51" y="821.99" font-size="10.6" text-anchor="start" fill="#1e1e1e" stroke="#1e1e1e" stroke-width="0.22" >4</text>
<text x="435.45" y="828.49" font-size="10.6" text-anchor="start" fill="#1e1e1e" stroke="#1e1e1e" stroke-width="0.22" >1074</text>
<rect x="131.4" y="846.12" width="400.50" height="6.80" fill="#4a7ebb"/>
<rect x="131.4" y="839.32" width="1.38" height="6.80" fill="#e0141c"/>
<text x="57.00" y="849.32" font-size="10.6" text-anchor="start" fill="#222" stroke="#222" stroke-width="0.22" textLength="62.40" lengthAdjust="spacingAndGlyphs" >40 a 49 anos</text>
<text x="139.78" y="846.42" font-size="10.6" text-anchor="start" fill="#1e1e1e" stroke="#1e1e1e" stroke-width="0.22" >5</text>
<text x="539.10" y="852.92" font-size="10.6" text-anchor="start" fill="#1e1e1e" stroke="#1e1e1e" stroke-width="0.22" >1449</text>
<rect x="131.4" y="870.55" width="505.81" height="6.80" fill="#4a7ebb"/>
<rect x="131.4" y="863.75" width="1.38" height="6.80" fill="#e0141c"/>
<text x="57.00" y="873.75" font-size="10.6" text-anchor="start" fill="#222" stroke="#222" stroke-width="0.22" textLength="62.40" lengthAdjust="spacingAndGlyphs" >30 a 39 anos</text>
<text x="139.78" y="870.85" font-size="10.6" text-anchor="start" fill="#1e1e1e" stroke="#1e1e1e" stroke-width="0.22" >5</text>
<text x="644.41" y="877.35" font-size="10.6" text-anchor="start" fill="#1e1e1e" stroke="#1e1e1e" stroke-width="0.22" >1830</text>
<rect x="131.4" y="894.98" width="425.38" height="6.80" fill="#4a7ebb"/>
<text x="57.00" y="898.18" font-size="10.6" text-anchor="start" fill="#222" stroke="#222" stroke-width="0.22" textLength="62.40" lengthAdjust="spacingAndGlyphs" >20 a 29 anos</text>
<text x="138.40" y="895.28" font-size="10.6" text-anchor="start" fill="#1e1e1e" stroke="#1e1e1e" stroke-width="0.22" >0</text>
<text x="563.98" y="901.78" font-size="10.6" text-anchor="start" fill="#1e1e1e" stroke="#1e1e1e" stroke-width="0.22" >1539</text>
<rect x="131.4" y="919.41" width="150.91" height="6.80" fill="#4a7ebb"/>
<text x="57.00" y="922.61" font-size="10.6" text-anchor="start" fill="#222" stroke="#222" stroke-width="0.22" textLength="62.40" lengthAdjust="spacingAndGlyphs" >10 a 19 anos</text>
<text x="138.40" y="919.71" font-size="10.6" text-anchor="start" fill="#1e1e1e" stroke="#1e1e1e" stroke-width="0.22" >0</text>
<text x="289.51" y="926.21" font-size="10.6" text-anchor="start" fill="#1e1e1e" stroke="#1e1e1e" stroke-width="0.22" >546</text>
<rect x="131.4" y="943.84" width="182.42" height="6.80" fill="#4a7ebb"/>
<text x="72.50" y="947.04" font-size="10.6" text-anchor="start" fill="#222" stroke="#222" stroke-width="0.22" textLength="46.90" lengthAdjust="spacingAndGlyphs" >&lt; 10 anos</text>
<text x="138.40" y="944.14" font-size="10.6" text-anchor="start" fill="#1e1e1e" stroke="#1e1e1e" stroke-width="0.22" >0</text>
<text x="321.02" y="950.64" font-size="10.6" text-anchor="start" fill="#1e1e1e" stroke="#1e1e1e" stroke-width="0.22" >660</text>
<rect x="131.4" y="736.8" width="552.80" height="218.10" fill="none" stroke="#a6a6a6" stroke-width="1.6"/>
<text x="131.40" y="974.80" font-size="10.9" text-anchor="middle" fill="#222" stroke="#222" stroke-width="0.22" >0</text>
<text x="186.68" y="974.80" font-size="10.9" text-anchor="middle" fill="#222" stroke="#222" stroke-width="0.22" >200</text>
<text x="241.96" y="974.80" font-size="10.9" text-anchor="middle" fill="#222" stroke="#222" stroke-width="0.22" >400</text>
<text x="297.24" y="974.80" font-size="10.9" text-anchor="middle" fill="#222" stroke="#222" stroke-width="0.22" >600</text>
<text x="352.52" y="974.80" font-size="10.9" text-anchor="middle" fill="#222" stroke="#222" stroke-width="0.22" >800</text>
<text x="407.80" y="974.80" font-size="10.9" text-anchor="middle" fill="#222" stroke="#222" stroke-width="0.22" >1000</text>
<text x="463.08" y="974.80" font-size="10.9" text-anchor="middle" fill="#222" stroke="#222" stroke-width="0.22" >1200</text>
<text x="518.36" y="974.80" font-size="10.9" text-anchor="middle" fill="#222" stroke="#222" stroke-width="0.22" >1400</text>
<text x="573.64" y="974.80" font-size="10.9" text-anchor="middle" fill="#222" stroke="#222" stroke-width="0.22" >1600</text>
<text x="628.92" y="974.80" font-size="10.9" text-anchor="middle" fill="#222" stroke="#222" stroke-width="0.22" >1800</text>
<text x="684.20" y="974.80" font-size="10.9" text-anchor="middle" fill="#222" stroke="#222" stroke-width="0.22" >2000</text>
</g>
</svg>
</body></html>
